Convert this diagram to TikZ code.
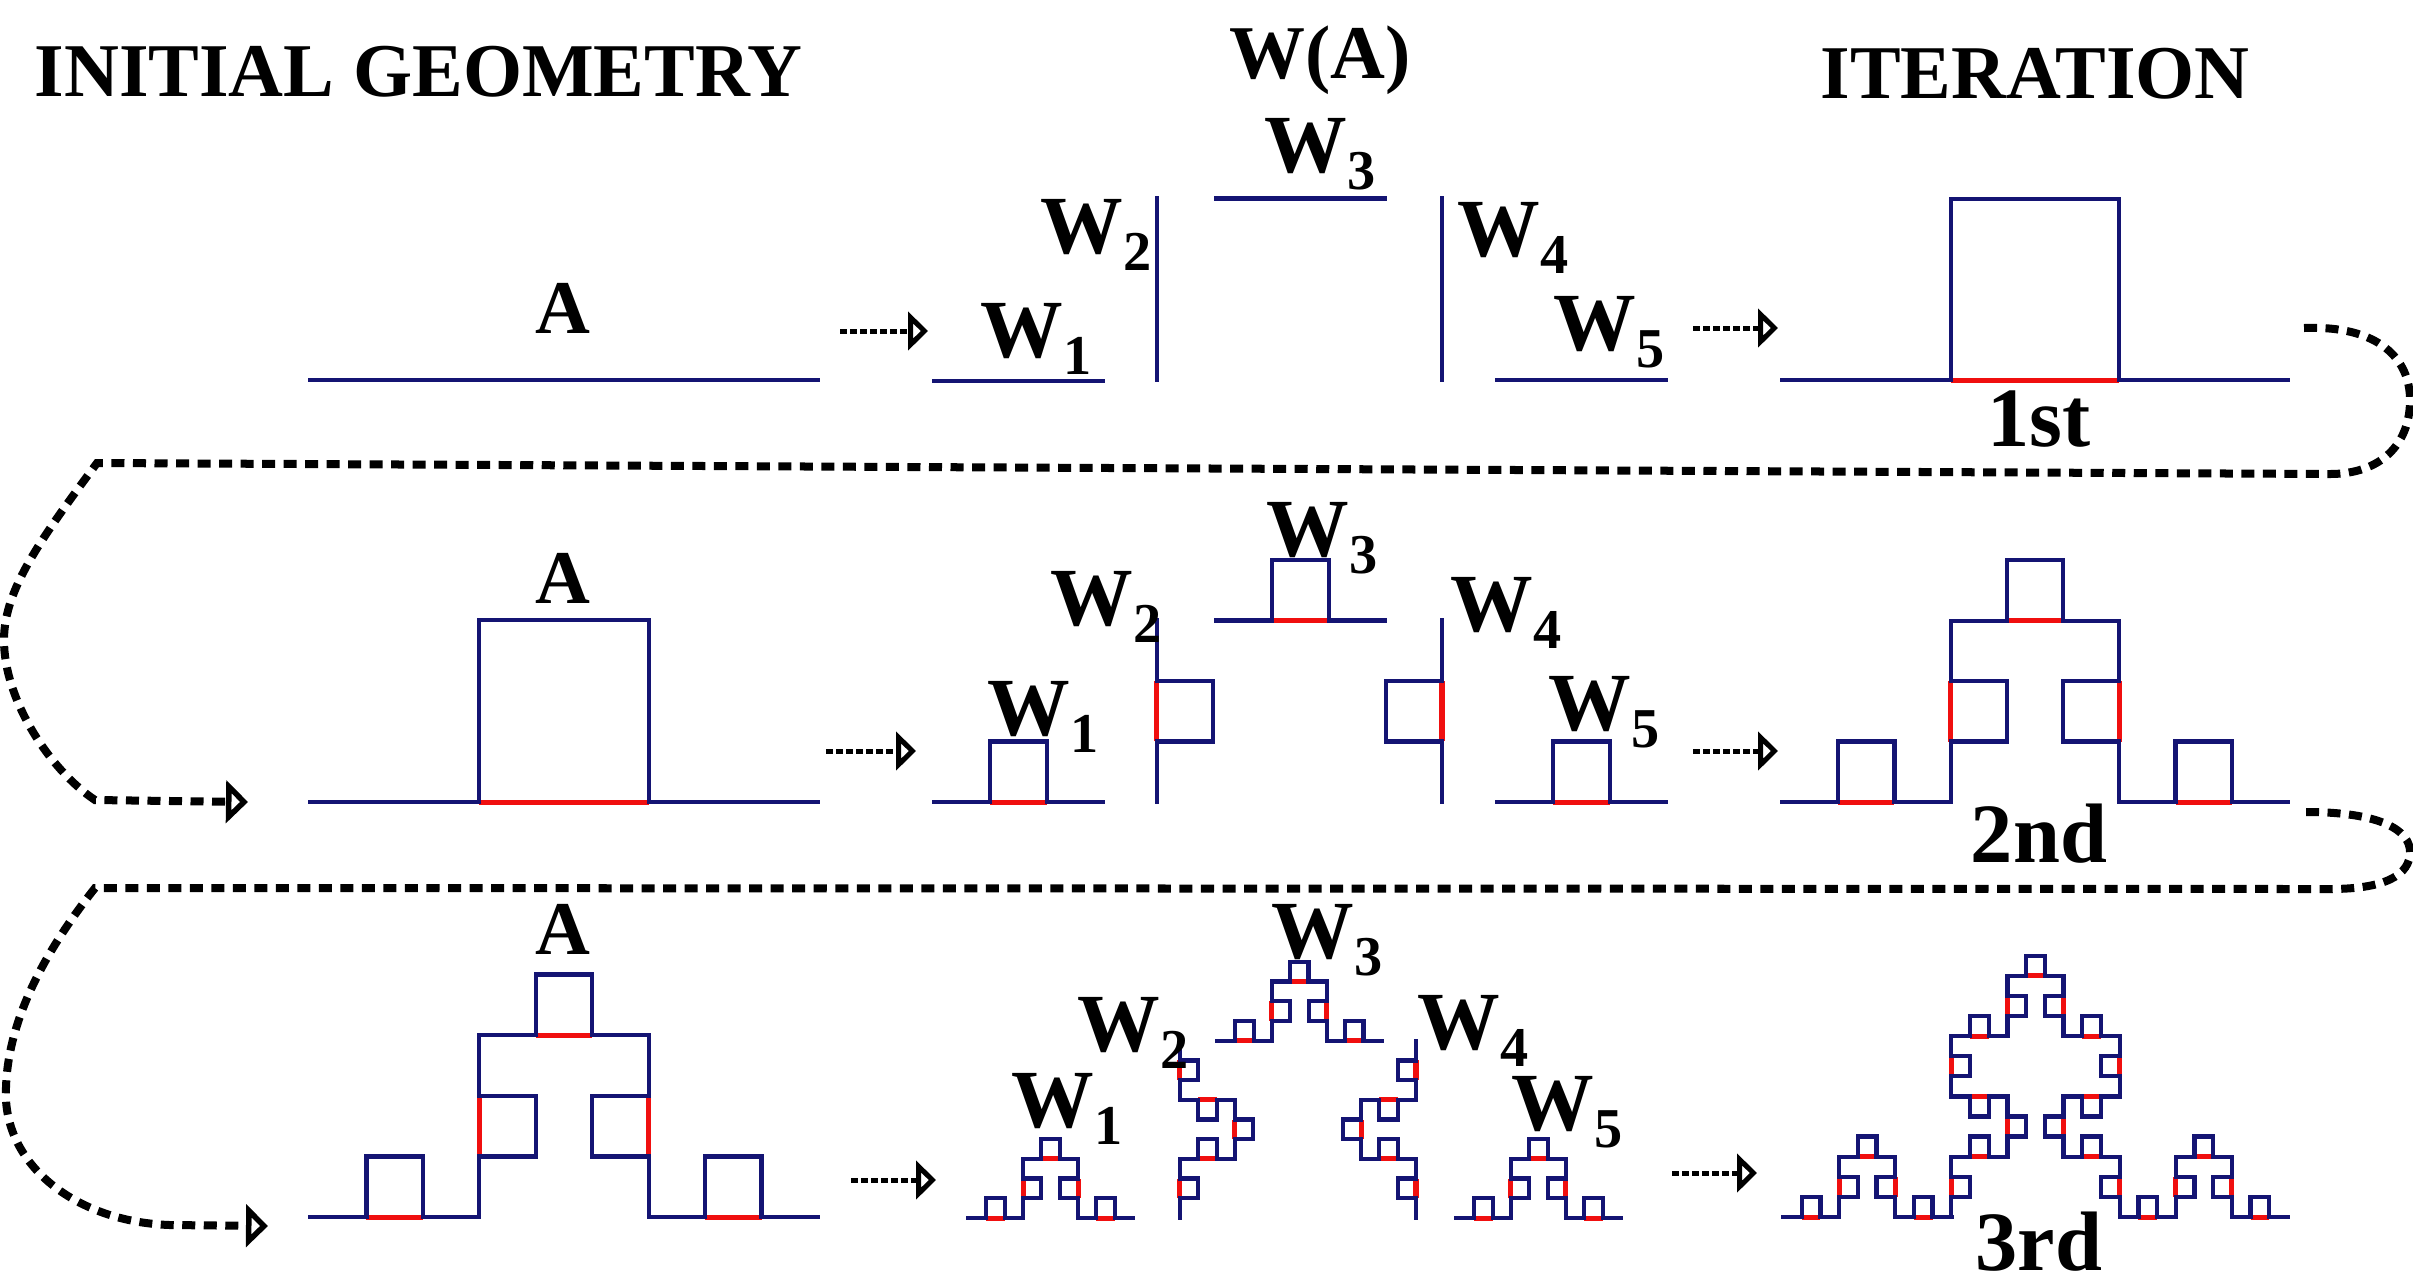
\documentclass[tikz,border=0pt]{standalone}
\usepackage{fontspec}
\setmainfont{Liberation Serif}
\usetikzlibrary{arrows.meta}
\definecolor{navy}{RGB}{20,20,115}
\definecolor{kred}{RGB}{240,15,15}
\def\kstretch{1.075}
\tikzset{
  kline/.style={draw=navy, line width=0.043cm, line cap=rect, line join=miter},
  redl/.style={draw=kred, line width=0.05cm},
  tw1/.style={scale=1/3},
  tw2/.style={shift={(1/3,0)},rotate=90,yscale=-1,scale=1/3},
  tw3/.style={shift={(1/3,1/3)},scale=1/3},
  tw4/.style={shift={(2/3,0)},rotate=90,scale=1/3},
  tw5/.style={shift={(2/3,0)},scale=1/3},
  whole/.style={},
  flow/.style={line width=0.05cm, dash pattern=on 0.065cm off 0.035cm,
    -{Triangle[open,length=0.2cm,width=0.38cm,line width=0.06cm]}},
  loopline/.style={line width=0.08cm, dash pattern=on 0.13cm off 0.085cm,
    -{Triangle[open,length=0.22cm,width=0.42cm,line width=0.07cm]}},
  ttl/.style={font=\fontsize{21.6}{26}\selectfont\bfseries, inner sep=0pt, anchor=base},
  wlab/.style={font=\fontsize{23.5}{28}\selectfont\bfseries, inner sep=0pt, anchor=base west},
  itl/.style={font=\fontsize{24}{28}\selectfont\bfseries, inner sep=0pt, anchor=base},
}
\newcommand\kochlevel[1]{%
  \ifnum#1=0\relax
    \draw[kline] (0,0) -- (1,0);%
  \else
    \ifnum#1=1\relax
      \draw[redl] (1/3,0) -- (2/3,0);%
      \draw[kline] (0,0) -- (1/3,0) -- (1/3,1/3) -- (2/3,1/3) -- (2/3,0) -- (1,0);%
    \else
      \expandafter\kochpieces\expandafter{\the\numexpr#1-1\relax}%
    \fi
  \fi}
\newcommand\kochpieces[1]{%
  \begin{scope}[tw1]\kochlevel{#1}\end{scope}%
  \begin{scope}[tw2]\kochlevel{#1}\end{scope}%
  \begin{scope}[tw3]\kochlevel{#1}\end{scope}%
  \begin{scope}[tw4]\kochlevel{#1}\end{scope}%
  \begin{scope}[tw5]\kochlevel{#1}\end{scope}}
\newcommand\fracat[5]{%
  \begin{scope}[shift={(#1,-#2)},xscale=#3,yscale=#3*\kstretch]
    \begin{scope}[#4]\kochlevel{#5}\end{scope}
  \end{scope}}
\newcommand\wsub[1]{W\raisebox{-0.17cm}{\fontsize{16}{16}\selectfont #1}}
\begin{document}
\begin{tikzpicture}[x=0.01cm,y=0.01cm]
\useasboundingbox (0,0) rectangle (2413,-1272);
\fill[white] (0,0) rectangle (2413,-1272);
% titles
\node[ttl, anchor=base west] (tinit) at (34,-96) {INITIAL GEOMETRY};
\node[ttl] (twa) at (1320,-78) {W(A)};
\node[ttl] (titer) at (2035,-98) {ITERATION};
% ---------- row 1 ----------
\node[ttl] (a1) at (563,-333) {A};
\fracat{310}{380}{508}{whole}{0}
\fracat{934}{381}{507}{tw1}{0}
\fracat{988}{380}{507}{tw2}{0}
\fracat{1047}{380}{507}{tw3}{0}
\fracat{1104}{380}{507}{tw4}{0}
\fracat{1159}{380}{507}{tw5}{0}
\fracat{1782}{380}{506}{whole}{1}
\node[wlab] (w1a) at (980,-357) {\wsub{1}};
\node[wlab] (w2a) at (1040,-253) {\wsub{2}};
\node[wlab] (w3a) at (1264,-172) {\wsub{3}};
\node[wlab] (w4a) at (1457,-256) {\wsub{4}};
\node[wlab] (w5a) at (1553,-350) {\wsub{5}};
\node[itl] (it1) at (2039,-446) {1st};
\coordinate (f1s) at (840,-331); \coordinate (f1e) at (928,-331);
\coordinate (f2s) at (1693,-328); \coordinate (f2e) at (1778,-328);
\draw[flow] (f1s) -- (f1e);
\draw[flow] (f2s) -- (f2e);
% ---------- row 2 ----------
\node[ttl] (a2) at (563,-603) {A};
\fracat{310}{802}{508}{whole}{1}
\fracat{934}{802}{507}{tw1}{1}
\fracat{988}{802}{507}{tw2}{1}
\fracat{1047}{802}{507}{tw3}{1}
\fracat{1104}{802}{507}{tw4}{1}
\fracat{1159}{802}{507}{tw5}{1}
\fracat{1782}{802}{506}{whole}{2}
\node[wlab] (w1b) at (987,-735) {\wsub{1}};
\node[wlab] (w2b) at (1050,-625) {\wsub{2}};
\node[wlab] (w3b) at (1266,-556) {\wsub{3}};
\node[wlab] (w4b) at (1450,-631) {\wsub{4}};
\node[wlab] (w5b) at (1548,-730) {\wsub{5}};
\node[itl] (it2) at (2039,-862) {2nd};
\coordinate (f3s) at (826,-751); \coordinate (f3e) at (916,-751);
\coordinate (f4s) at (1693,-751); \coordinate (f4e) at (1778,-751);
\draw[flow] (f3s) -- (f3e);
\draw[flow] (f4s) -- (f4e);
% ---------- row 3 ----------
\node[ttl] (a3) at (563,-954) {A};
\fracat{310}{1217}{508}{whole}{2}
\fracat{968}{1218}{495}{tw1}{2}
\fracat{1015}{1218}{495}{tw2}{2}
\fracat{1052}{1218}{495}{tw3}{2}
\fracat{1086}{1218}{495}{tw4}{2}
\fracat{1126}{1218}{495}{tw5}{2}
\fracat{1783}{1217}{505}{whole}{3}
\node[wlab] (w1c) at (1011,-1127) {\wsub{1}};
\node[wlab] (w2c) at (1077,-1051) {\wsub{2}};
\node[wlab] (w3c) at (1271,-958) {\wsub{3}};
\node[wlab] (w4c) at (1417,-1049) {\wsub{4}};
\node[wlab] (w5c) at (1511,-1130) {\wsub{5}};
\node[itl] (it3) at (2039,-1270) {3rd};
\coordinate (f5s) at (851,-1180); \coordinate (f5e) at (936,-1180);
\coordinate (f6s) at (1672,-1173); \coordinate (f6e) at (1757,-1173);
\draw[flow] (f5s) -- (f5e);
\draw[flow] (f6s) -- (f6e);
% ---------- loops ----------
\coordinate (l1s) at (2304,-328);
\coordinate (l1e) at (248,-802);
\draw[loopline] (l1s) .. controls (2380,-325) and (2410,-360) .. (2410,-400)
  .. controls (2410,-445) and (2380,-474) .. (2330,-474) -- (97,-463)
  .. controls (40,-540) and (4,-590) .. (4,-640)
  .. controls (4,-700) and (50,-770) .. (95,-800) -- (l1e);
\coordinate (l2s) at (2306,-812);
\coordinate (l2e) at (268,-1226);
\draw[loopline] (l2s) .. controls (2380,-812) and (2410,-830) .. (2410,-852)
  .. controls (2410,-875) and (2385,-889) .. (2330,-889) -- (95,-888)
  .. controls (30,-970) and (4,-1040) .. (6,-1100)
  .. controls (10,-1170) and (80,-1222) .. (170,-1225) -- (l2e);
\end{tikzpicture}
\end{document}
